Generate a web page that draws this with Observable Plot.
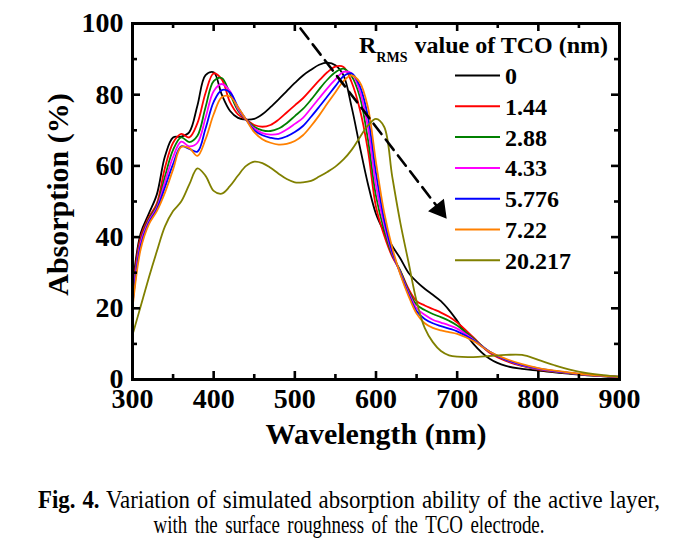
<!DOCTYPE html>
<html><head><meta charset="utf-8">
<script src="https://cdn.jsdelivr.net/npm/d3@7"></script>
<script src="https://cdn.jsdelivr.net/npm/@observablehq/plot@0.6"></script>
<style>
html,body{margin:0;padding:0;background:#fff;}
body{width:698px;height:545px;overflow:hidden;position:relative;font-family:"Liberation Serif","Times New Roman",serif;color:#000;}
#chart{position:absolute;left:0;top:0;}
.capline{position:absolute;left:0;width:698px;height:25px;font-size:25px;line-height:25px;}
.capline span.inner{position:absolute;left:349px;top:0;white-space:nowrap;transform-origin:center;}
</style></head>
<body>
<div id="chart"></div>
<div class="capline" id="cap1" style="top:487px"><span class="inner"><b>Fig. 4.</b> Variation of simulated absorption ability of the active layer,</span></div>
<div class="capline" id="cap2" style="top:512px"><span class="inner">with the surface roughness of the TCO electrode.</span></div>
<script>
// ---------- data ----------
const wavelength = [300,310,320,330,340,350,360,370,380,390,400,410,420,430,440,450,460,470,480,490,500,510,520,530,540,550,560,570,580,590,600,610,620,630,640,650,660,670,680,690,700,720,740,760,780,800,820,840,860,880,900];
const abs0     = [26,41,46.5,52,62.7,68,68.2,69.5,77,85.5,86.3,80,75.5,73.5,73,73.2,74.5,76.5,78.7,81,83.3,85.4,87,88.4,89,88.3,85.4,76.5,65.5,55,46.5,41.5,37.5,34,30,27.5,25.5,23.8,22,19.5,16.5,10,5.8,3.8,3.0,2.5,2.0,1.6,1.2,0.9,0.6];
const abs144   = [24,40,45.5,49.5,59.5,66.5,69,68,72,80.5,86,84.3,78,74.5,73,71.5,71,71.5,73,75,77,79,81.5,84,86.3,87.9,87.8,83.5,76,64.5,48.5,40.5,34.5,30.5,25.5,22,20.8,19.8,18.8,17.6,16,11.8,7.5,5.2,3.8,2.8,2.2,1.7,1.3,1.0,0.7];
const abs288   = [23,39,45,48.8,57,64.5,68,66.7,68.5,76.5,83.8,84.7,80.3,75.5,73,71,70,69.8,70.5,72,74,76,78.6,81.5,84.2,86.3,87.3,85.2,79.5,67.5,51.5,42,35,30.5,25,21,19.5,18.4,17.5,16.5,15.2,11.5,7.8,5.4,3.9,2.9,2.2,1.7,1.3,1.0,0.7];
const abs433   = [22,38.5,44.5,48.3,55.5,62.5,66.8,65.5,66.5,73.5,81,83,81,76,73,70.5,69.2,68.8,69,70.2,71.8,73.5,76.2,79,81.8,84.3,86.4,86,81,71,54.5,43.5,35.5,30,24.5,20,18.2,16.8,16,15.2,14.3,11.2,7.8,5.5,4.0,3.0,2.3,1.8,1.3,1.0,0.7];
const abs5776  = [21,37.5,44,47.8,54,60.5,65.5,64.8,64,70.5,78,81.3,80.7,76.5,73,70,68.6,67.9,67.6,68.3,69.5,71.2,73.8,76.6,79.5,82.4,85.2,86,82.5,74,58,45,36,29.8,24,19.2,17,15.8,15,14.3,13.5,11,7.8,5.6,4.1,3.1,2.4,1.8,1.4,1.0,0.7];
const abs722   = [20,36.5,43.5,47.3,52.5,59,65.3,65,62.8,67.5,74.5,79.3,79.5,76.5,73,69.5,67.5,66.5,66,66.2,67,68.6,71.2,74.2,77.5,80.7,83.8,85.4,83.5,76.5,61,47,37,29.5,23.5,18.5,15.8,14.5,13.8,13.3,12.8,10.8,7.8,5.8,4.3,3.2,2.5,1.9,1.4,1.0,0.7];
const abs20217 = [12.5,20.5,28.5,36,43,47.3,50,54.8,59.3,57.2,53,52.2,54.3,57.3,60,61.2,60.8,59.5,57.8,56.3,55.4,55.4,55.8,57,58.3,59.8,61.8,64.5,68,71.3,73.2,71,57,44,33,22,14.5,10.5,8,6.8,6.4,6.3,6.6,6.9,6.9,5.5,4,2.7,1.8,1.2,0.8];
const seriesNames  = ["0","1.44","2.88","4.33","5.776","7.22","20.217"];
const seriesValues = [abs0,abs144,abs288,abs433,abs5776,abs722,abs20217];
const seriesColors = ["#000000","#ff0000","#008000","#ff00ff","#0000ff","#ff8000","#808000"];
const xTicks = [300,400,500,600,700,800,900];
const xMinor = [350,450,550,650,750,850];
const yTicks = [0,20,40,60,80,100];
const yMinor = [10,30,50,70,90];
const arrowPath = [{w:507,a:98.6},{w:682,a:46.6}];
const legendTitle = ["R","RMS","value of TCO (nm)"];

// ---------- build ----------
const rows = seriesNames.flatMap((s,i)=>wavelength.map((w,j)=>({s, w, a: seriesValues[i][j]})));

const W=698, H=462, mL=132, mR=79, mT=23, mB=H-379;
const pW = W-mL-mR, pH = H-mT-mB;
const font = '"Liberation Serif","Times New Roman",serif';

const plot = Plot.plot({
  width: W, height: H,
  marginLeft: mL, marginRight: mR, marginTop: mT, marginBottom: mB,
  style: {fontFamily: font, fontWeight: "bold", color: "#000", background: "#fff", overflow: "visible"},
  x: {domain: [300, 900]},
  y: {domain: [0, 100]},
  color: {domain: seriesNames, range: seriesColors},
  marks: [
    Plot.line(rows, {x: "w", y: "a", z: "s", stroke: "s", curve: "catmull-rom", strokeWidth: 1.8}),
    Plot.line(arrowPath, {x: "w", y: "a", stroke: "#000", strokeWidth: 2.6, strokeDasharray: "13,7"}),
    Plot.dot(arrowPath.slice(1), {x: "w", y: "a", symbol: "triangle", r: 6.5, fill: "#000", stroke: "#000", rotate: 142, dx: -3, dy: -4}),
    Plot.axisX({ticks: xTicks, tickSize: 0, tickPadding: 9, fontSize: 28, fontWeight: "bold", label: null}),
    Plot.axisY({ticks: yTicks, tickSize: 0, tickPadding: 9, fontSize: 28, fontWeight: "bold", label: null}),
    Plot.tickX(xTicks, {x: d=>d, insetTop: pH-8, strokeWidth: 2.6}),
    Plot.tickX(xMinor, {x: d=>d, insetTop: pH-5, strokeWidth: 2.6}),
    Plot.tickX(xTicks, {x: d=>d, insetBottom: pH-8, strokeWidth: 2.6}),
    Plot.tickX(xMinor, {x: d=>d, insetBottom: pH-5, strokeWidth: 2.6}),
    Plot.tickY(yTicks, {y: d=>d, insetRight: pW-8, strokeWidth: 2.6}),
    Plot.tickY(yMinor, {y: d=>d, insetRight: pW-5, strokeWidth: 2.6}),
    Plot.tickY(yTicks, {y: d=>d, insetLeft: pW-8, strokeWidth: 2.6}),
    Plot.tickY(yMinor, {y: d=>d, insetLeft: pW-5, strokeWidth: 2.6}),
    Plot.frame({stroke: "#000", strokeWidth: 3}),
    Plot.text(["Wavelength (nm)"], {frameAnchor: "bottom", textAnchor: "middle", dy: 64, fontSize: 30, fontWeight: "bold"}),
    Plot.text(["Absorption (%)"], {frameAnchor: "left", textAnchor: "middle", dx: -74, dy: -7, rotate: -90, fontSize: 30, fontWeight: "bold"})
  ]
});
document.getElementById("chart").appendChild(plot);

// legend inside the frame
const svg = d3.select(plot);
const lg = svg.append("g").attr("font-family", font).attr("font-weight", "bold").attr("fill", "#000").attr("text-anchor", "start");
const t = lg.append("text").attr("x", 359).attr("y", 53).attr("font-size", 24).attr("text-anchor", "start");
t.append("tspan").text(legendTitle[0]);
t.append("tspan").attr("font-size", 14).attr("dy", 8.5).text(legendTitle[1]);
t.append("tspan").attr("font-size", 24).attr("dy", -8.5).attr("dx", 7).text(legendTitle[2]);
seriesNames.forEach((n, i) => {
  const y = 75.5 + i * 30.8;
  lg.append("line").attr("x1", 455).attr("x2", 500).attr("y1", y).attr("y2", y)
    .attr("stroke", seriesColors[i]).attr("stroke-width", 2);
  lg.append("text").attr("x", 505).attr("y", y).attr("dy", "0.35em").attr("font-size", 24).attr("text-anchor", "start").text(n);
});

// caption fitting (condensed serif)
const el1 = document.querySelector("#cap1 .inner");
const el2 = document.querySelector("#cap2 .inner");
const w1 = el1.getBoundingClientRect().width;
const w2 = el2.getBoundingClientRect().width;
function spread(el, w, target, s) {
  const n = el.textContent.split(" ").length - 1;
  el.style.wordSpacing = Math.max(0, (target / s - w) / n) + "px";
  el.style.transform = "translateX(-50%) scaleX(" + s + ")";
}
spread(el1, w1, 622, 622 / w1 * 0.98);
spread(el2, w2, 391, 391 / w2 * 0.95);
</script>
</body></html>
